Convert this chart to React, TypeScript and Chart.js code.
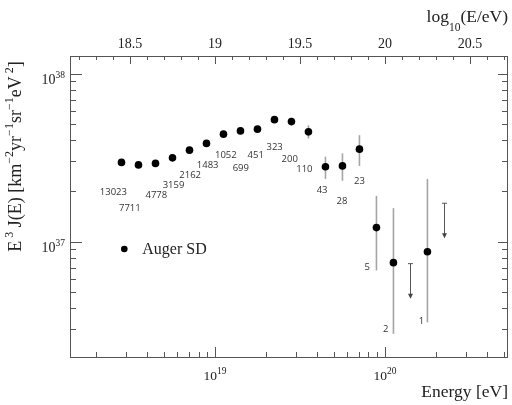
import { useEffect, useRef } from "react";
import { Chart, registerables } from "chart.js";
Chart.register(...registerables);

// ---- data ----
const binLog10E = [18.45, 18.55, 18.65, 18.75, 18.85, 18.95, 19.05, 19.15, 19.25, 19.35, 19.45, 19.55, 19.65, 19.75, 19.85, 19.95, 20.05, 20.25];
const fluxE37 = [2.96, 2.86, 2.92, 3.15, 3.5, 3.84, 4.36, 4.56, 4.67, 5.32, 5.18, 4.5, 2.79, 2.82, 3.55, 1.21, 0.748, 0.869];
const errLowE37 = [2.93, 2.83, 2.88, 3.1, 3.44, 3.77, 4.26, 4.44, 4.52, 5.1, 4.92, 4.11, 2.36, 2.3, 2.82, 0.673, 0.282, 0.33];
const errHighE37 = [2.99, 2.89, 2.96, 3.2, 3.56, 3.91, 4.46, 4.68, 4.82, 5.55, 5.45, 4.92, 3.2, 3.35, 4.3, 1.87, 1.58, 2.36];
const eventCounts = ["13023", "7711", "4778", "3159", "2162", "1483", "1052", "699", "451", "323", "200", "110", "43", "28", "23", "5", "2", "1"];
const countLabelLog10E = [18.402, 18.499, 18.655, 18.756, 18.854, 18.957, 19.064, 19.152, 19.24, 19.351, 19.44, 19.526, 19.63, 19.747, 19.85, 19.896, 20.004, 20.215];
const countLabelLog10J = [37.294, 37.195, 37.278, 37.335, 37.396, 37.454, 37.511, 37.434, 37.511, 37.564, 37.491, 37.43, 37.304, 37.237, 37.357, 36.848, 36.479, 36.522];
const upperLimitLog10E = [20.15, 20.35];
const upperLimitE37 = [0.738, 1.69];
const topTickValues = [18.5, 19, 19.5, 20, 20.5];
const topTickLabels = ["18.5", "19", "19.5", "20", "20.5"];
const bottomDecades = [19, 20];
const leftDecades = [37, 38];
const xRangeLog10 = [18.147, 20.724];
const yRangeLog10 = [36.312, 38.105];
const seriesLabel = "Auger SD";

const SERIF = "'Liberation Serif', 'DejaVu Serif', serif";
const SANS = "'Open Sans', 'Noto Sans', sans-serif";

type Seg = { t: string; s?: "sup" | "sub" };

function segFont(seg: Seg, base: number, small: number) {
  return `${seg.s ? small : base}px ${SERIF}`;
}
function richWidth(ctx: CanvasRenderingContext2D, segs: Seg[], base: number, small: number) {
  let w = 0;
  for (const s of segs) {
    ctx.font = segFont(s, base, small);
    w += ctx.measureText(s.t).width;
  }
  return w;
}
function drawRich(
  ctx: CanvasRenderingContext2D,
  segs: Seg[],
  x: number,
  y: number,
  align: "left" | "center" | "right",
  base: number,
  small: number
) {
  const w = richWidth(ctx, segs, base, small);
  let cx = align === "left" ? x : align === "center" ? x - w / 2 : x - w;
  ctx.textAlign = "left";
  ctx.textBaseline = "alphabetic";
  for (const s of segs) {
    ctx.font = segFont(s, base, small);
    const dy = s.s === "sup" ? -base * 0.42 : s.s === "sub" ? base * 0.5 : 0;
    ctx.fillText(s.t, cx, y + dy);
    cx += ctx.measureText(s.t).width;
  }
}

const overlayPlugin = {
  id: "overlay",
  beforeDatasetsDraw(chart: any) {
    const { ctx, scales } = chart;
    const x = scales.x;
    const y = scales.y;
    ctx.save();
    ctx.strokeStyle = "#a4a4a4";
    ctx.lineWidth = 1.6;
    binLog10E.forEach((le, i) => {
      const px = x.getPixelForValue(10 ** le);
      ctx.beginPath();
      ctx.moveTo(px, y.getPixelForValue(errLowE37[i] * 1e37));
      ctx.lineTo(px, y.getPixelForValue(errHighE37[i] * 1e37));
      ctx.stroke();
    });
    // upper limits
    ctx.strokeStyle = "#555";
    ctx.fillStyle = "#444";
    ctx.lineWidth = 1;
    upperLimitLog10E.forEach((le, i) => {
      const px = Math.round(x.getPixelForValue(10 ** le)) + 0.5;
      const py = y.getPixelForValue(upperLimitE37[i] * 1e37);
      const len = 34;
      ctx.beginPath();
      ctx.moveTo(px - 2.5, py);
      ctx.lineTo(px + 2.5, py);
      ctx.moveTo(px, py);
      ctx.lineTo(px, py + len);
      ctx.stroke();
      ctx.beginPath();
      ctx.moveTo(px - 2.5, py + len - 4);
      ctx.lineTo(px + 2.5, py + len - 4);
      ctx.lineTo(px, py + len + 1);
      ctx.closePath();
      ctx.fill();
    });
    ctx.restore();
  },
  afterDraw(chart: any) {
    const { ctx, chartArea, scales } = chart;
    const x = scales.x;
    const x2 = scales.x2;
    const y = scales.y;
    const { left, right, top, bottom } = chartArea;
    ctx.save();
    // frame
    ctx.strokeStyle = "#555";
    ctx.lineWidth = 1;
    ctx.strokeRect(Math.round(left) + 0.5, Math.round(top) + 0.5, Math.round(right - left) - 1, Math.round(bottom - top));

    const majorLen = 10;
    const minorLen = 5;
    // log ticks bottom
    ctx.beginPath();
    for (let d = Math.floor(xRangeLog10[0]); d <= Math.ceil(xRangeLog10[1]); d++) {
      for (let m = 1; m <= 9; m++) {
        const lv = d + Math.log10(m);
        if (lv <= xRangeLog10[0] || lv >= xRangeLog10[1]) continue;
        const px = Math.round(x.getPixelForValue(10 ** lv)) + 0.5;
        const len = m === 1 ? majorLen : minorLen;
        ctx.moveTo(px, bottom);
        ctx.lineTo(px, bottom - len);
      }
    }
    // top linear ticks
    for (let k = Math.ceil(xRangeLog10[0] * 10); k <= Math.floor(xRangeLog10[1] * 10); k++) {
      const px = Math.round(x2.getPixelForValue(k / 10)) + 0.5;
      const len = k % 5 === 0 ? 8 : 4;
      ctx.moveTo(px, top);
      ctx.lineTo(px, top + len);
    }
    // left and right log ticks
    for (let d = Math.floor(yRangeLog10[0]); d <= Math.ceil(yRangeLog10[1]); d++) {
      for (let m = 1; m <= 9; m++) {
        const lv = d + Math.log10(m);
        if (lv <= yRangeLog10[0] || lv >= yRangeLog10[1]) continue;
        const py = Math.round(y.getPixelForValue(10 ** lv)) + 0.5;
        const len = m === 1 ? 12 : 6;
        ctx.moveTo(left, py);
        ctx.lineTo(left + len, py);
        ctx.moveTo(right, py);
        ctx.lineTo(right - (m === 1 ? majorLen : 6), py);
      }
    }
    ctx.stroke();

    ctx.fillStyle = "#222";
    // top tick labels
    ctx.font = `14px ${SERIF}`;
    ctx.textAlign = "center";
    ctx.textBaseline = "alphabetic";
    topTickValues.forEach((v, i) => {
      ctx.fillText(topTickLabels[i], x2.getPixelForValue(v), top - 8);
    });
    // bottom decade labels
    bottomDecades.forEach((d) => {
      drawRich(ctx, [{ t: "10" }, { t: String(d), s: "sup" }], x.getPixelForValue(10 ** d), bottom + 23, "center", 13.5, 9.5);
    });
    // left decade labels
    leftDecades.forEach((d) => {
      drawRich(ctx, [{ t: "10" }, { t: String(d), s: "sup" }], left - 5, y.getPixelForValue(10 ** d) + 10, "right", 14, 9.5);
    });
    // axis titles
    drawRich(ctx, [{ t: "Energy [eV]" }], right, bottom + 40, "right", 17.5, 12);
    drawRich(ctx, [{ t: "log" }, { t: "10", s: "sub" }, { t: "(E/eV)" }], right, top - 34, "right", 17.5, 11.5);
    ctx.save();
    ctx.translate(21, (top + bottom) / 2 - 50);
    ctx.rotate(-Math.PI / 2);
    drawRich(
      ctx,
      [
        { t: "E" },
        { t: " 3", s: "sup" },
        { t: " J(E) [km" },
        { t: "−2", s: "sup" },
        { t: "yr" },
        { t: "−1", s: "sup" },
        { t: "sr" },
        { t: "−1", s: "sup" },
        { t: "eV" },
        { t: " 2", s: "sup" },
        { t: "]" },
      ],
      0,
      0,
      "center",
      18,
      12
    );
    ctx.restore();

    // event count labels
    ctx.fillStyle = "#333";
    ctx.font = `9.5px ${SANS}`;
    ctx.textAlign = "center";
    ctx.textBaseline = "middle";
    eventCounts.forEach((c, i) => {
      ctx.fillText(c, x.getPixelForValue(10 ** countLabelLog10E[i]), y.getPixelForValue(10 ** countLabelLog10J[i]));
    });

    // legend
    const lx = left + 0.124 * (right - left);
    const ly = top + 0.641 * (bottom - top);
    ctx.fillStyle = "#000";
    ctx.beginPath();
    ctx.arc(lx, ly, 3.3, 0, Math.PI * 2);
    ctx.fill();
    ctx.fillStyle = "#222";
    drawRich(ctx, [{ t: seriesLabel }], lx + 18, ly + 5.5, "left", 16, 11);
    ctx.restore();
  },
};

export default function App() {
  const ref = useRef<HTMLCanvasElement | null>(null);
  useEffect(() => {
    document.body.style.margin = "0";
    const canvas = ref.current;
    if (!canvas) return;
    const chart = new Chart(canvas, {
      type: "scatter",
      data: {
        datasets: [
          {
            label: seriesLabel,
            data: binLog10E.map((le, i) => ({ x: 10 ** le, y: fluxE37[i] * 1e37 })),
            backgroundColor: "#000",
            borderColor: "#000",
            borderWidth: 0,
            pointRadius: 3.8,
            pointHoverRadius: 3.8,
          },
        ],
      },
      options: {
        responsive: false,
        animation: false,
        devicePixelRatio: 1,
        layout: { padding: { left: 70, right: 4, top: 56, bottom: 48 } },
        plugins: { legend: { display: false }, tooltip: { enabled: false } },
        scales: {
          x: { type: "logarithmic", position: "bottom", min: 10 ** xRangeLog10[0], max: 10 ** xRangeLog10[1], display: false },
          x2: { type: "linear", position: "top", min: xRangeLog10[0], max: xRangeLog10[1], display: false },
          y: { type: "logarithmic", min: 10 ** yRangeLog10[0], max: 10 ** yRangeLog10[1], display: false },
        },
      },
      plugins: [overlayPlugin],
    });
    return () => chart.destroy();
  }, []);
  return (
    <div style={{ width: 512, height: 405, background: "#fff" }}>
      <canvas ref={ref} width={512} height={405} />
    </div>
  );
}
